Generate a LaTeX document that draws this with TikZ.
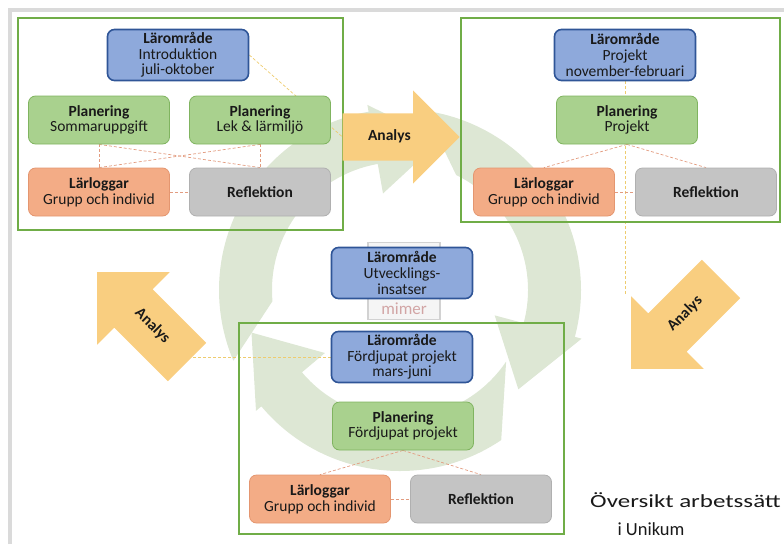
\documentclass[tikz,border=0pt]{standalone}
\usepackage{fontspec}
\setmainfont{Carlito}
\usepackage{graphicx}
\usetikzlibrary{shapes.arrows,backgrounds}

\definecolor{bluefill}{RGB}{142,169,219}
\definecolor{blueline}{RGB}{47,85,151}
\definecolor{greenfill}{RGB}{169,209,142}
\definecolor{greenline}{RGB}{128,180,96}
\definecolor{orangefill}{RGB}{243,172,134}
\definecolor{orangeline}{RGB}{228,150,112}
\definecolor{grayfill}{RGB}{196,196,196}
\definecolor{grayline}{RGB}{176,176,176}
\definecolor{framegreen}{RGB}{112,173,71}
\definecolor{analysfill}{RGB}{249,206,128}
\definecolor{ringfill}{RGB}{221,231,212}
\definecolor{dashsalmon}{RGB}{226,156,128}
\definecolor{dashyellow}{RGB}{238,204,110}
\definecolor{edgegray}{RGB}{218,218,218}
\definecolor{textdark}{RGB}{25,25,25}
\definecolor{mimerred}{RGB}{210,165,165}

\tikzset{
  box/.style={draw, rounded corners=7pt, align=center, minimum width=141, minimum height=48, inner sep=1pt, line width=0.8pt},
  bluebox/.style={box, fill=bluefill, draw=blueline, line width=1.6pt, minimum height=51},
  greenbox/.style={box, fill=greenfill, draw=greenline},
  orangebox/.style={box, fill=orangefill, draw=orangeline},
  graybox/.style={box, fill=grayfill, draw=grayline},
  frame/.style={draw=framegreen, line width=2.6pt},
  analys/.style={single arrow, fill=analysfill, font=\fontsize{15.5}{15.7}\selectfont\bfseries, text height=9pt, text depth=2.5pt, inner xsep=2pt},
  link/.style={draw=dashsalmon, dashed, dash pattern=on 3pt off 2pt, line width=0.7pt},
  ylink/.style={link, draw=dashyellow},
  title/.style={font=\fontsize{18.5}{20}\selectfont}
}

\begin{document}
\begin{tikzpicture}[x=1pt, y=-1pt, every node/.style={font=\fontsize{15.5}{15.7}\selectfont, text=textdark}]
\useasboundingbox (0,0) rectangle (784,544);
\draw[line width=4pt, edgegray] (10,544) -- (10,10) -- (784,10);

% the three periods
\node[frame, minimum width=325, minimum height=212] (box1) at (180.5,124) {};
\node[frame, minimum width=319, minimum height=204] (box2) at (620.5,120) {};
\node[frame, minimum width=325, minimum height=211] (box3) at (401.5,428.5) {};

\node[draw=gray!35, fill=gray!8, line width=1.5pt, minimum width=72, minimum height=77] (mimer) at (404,281) {};
\node[font=\fontsize{17}{17}\selectfont, text=mimerred] (mimertext) at (404,309) {mimer};

\node[bluebox] (intro) at (178,55) {\textbf{Lärområde}\\Introduktion\\juli-oktober};
\node[greenbox] (somm) at (99,120) {\textbf{Planering}\\Sommaruppgift};
\node[greenbox] (lek) at (260,120) {\textbf{Planering}\\Lek \& lärmiljö};
\node[orangebox] (logg1) at (99,192) {\textbf{Lärloggar}\\Grupp och individ};
\node[graybox] (refl1) at (260,192) {\textbf{Reflektion}};

\node[bluebox] (proj) at (625,55) {\textbf{Lärområde}\\Projekt\\november-februari};
\node[greenbox] (projplan) at (627,120) {\textbf{Planering}\\Projekt};
\node[orangebox] (logg2) at (544,192) {\textbf{Lärloggar}\\Grupp och individ};
\node[graybox] (refl2) at (706,192) {\textbf{Reflektion}};

\node[bluebox] (utv) at (402,273) {\textbf{Lärområde}\\Utvecklings-\\insatser};

\node[bluebox] (ford) at (402,357) {\textbf{Lärområde}\\Fördjupat projekt\\mars-juni};
\node[greenbox] (fordplan) at (403,426) {\textbf{Planering}\\Fördjupat projekt};
\node[orangebox] (logg3) at (320,499) {\textbf{Lärloggar}\\Grupp och individ};
\node[graybox] (refl3) at (481,499) {\textbf{Reflektion}};

% analys arrows
\node[analys, minimum height=117, single arrow head extend=23pt, inner ysep=17.75pt, anchor=tip] (an1) at (460,137) {Analys};
\node[analys, minimum height=127, single arrow head extend=24pt, inner ysep=21.25pt, shape border rotate=180, rotate=45, anchor=tip] (an2) at (631,369) {Analys};
\node[analys, minimum height=127, single arrow head extend=24pt, inner ysep=21.25pt, shape border rotate=180, rotate=-45, anchor=tip] (an3) at (97,272) {Analys};

\node[title] (ttl1) at (685.5,500) {\scalebox{1.35}[1]{Översikt arbetssätt}};
\node[title] (ttl2) at (651,529) {i Unikum};

\begin{pgfonlayer}{background}
  % cycle in the back
  \begin{scope}[shift={(400,290)}, x=1pt, y=1pt]
    \foreach \ao/\ai/\b/\c in {203/185/100/75, 82/64/-15/-40, 304/326/220/196}
      \fill[ringfill] (\ao:181) arc[start angle=\ao, end angle=\b, radius=181] -- (\b:188) -- (\c:154.5) -- (\b:98) -- (\b:128) arc[start angle=\b, end angle=\ai, radius=128] -- cycle;
  \end{scope}
  \draw[ylink] (intro.east) -- (an1.tail);
  \draw[ylink] (proj.south) -- (proj.south |- an2.after tip);
  \draw[ylink] (ford.west) -- (ford.west -| an3.tail);
  \draw[link] (somm.south) -- (logg1.north);
  \draw[link] (lek.south) -- (refl1.north);
  \draw[link] (somm.south) -- (refl1.north);
  \draw[link] (logg1.north) -- (lek.south);
  \draw[link] (logg1.east) -- (refl1.west);
  \draw[link] (projplan.south) -- (logg2.north);
  \draw[link] (projplan.south) -- (refl2.north);
  \draw[link] (logg2.east) -- (refl2.west);
  \draw[link] (fordplan.south) -- (logg3.north);
  \draw[link] (fordplan.south) -- (refl3.north);
  \draw[link] (logg3.east) -- (refl3.west);
\end{pgfonlayer}
\end{tikzpicture}
\end{document}
